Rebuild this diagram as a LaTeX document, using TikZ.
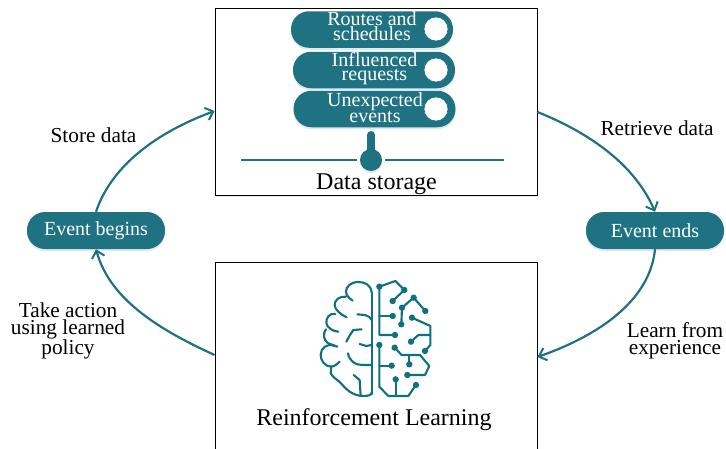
\documentclass[tikz,border=0pt]{standalone}
\usepackage{fontspec}
\setmainfont{Liberation Serif}
\usetikzlibrary{arrows.meta,shadows}
\definecolor{teal1}{HTML}{1F7282}
\definecolor{teal2}{HTML}{0F7080}
\definecolor{shade}{HTML}{9CC3E0}
\tikzset{
  softshadow/.style={drop shadow={shadow xshift=0pt,shadow yshift=-2pt,fill=shade,opacity=.35}},
  framebox/.style={draw=black,line width=.9pt,fill=white,inner sep=0pt,minimum width=322pt,drop shadow={shadow xshift=0pt,shadow yshift=-1.5pt,fill=shade,opacity=.3}},
  eventpill/.style={fill=teal1,rounded corners=18pt,minimum width=138pt,minimum height=37pt,inner sep=0pt,text=white,font=\fontsize{20}{20}\selectfont,softshadow},
  storepill/.style={fill=teal1,rounded corners=18pt,minimum width=162pt,minimum height=36.5pt,inner sep=0pt,softshadow},
  pilltext/.style={inner sep=0pt,text=white,align=center,font=\fontsize{20}{14}\selectfont},
  dot/.style={circle,fill=white,draw=teal1,line width=.6pt,minimum size=24pt,inner sep=0pt},
  flow/.style={draw=teal1,line width=2.2pt,-{Straight Barb[length=7pt,width=13pt,line width=2pt]}},
  label/.style={inner sep=0pt,align=center,text=black,font=\fontsize{21.3}{17}\selectfont},
  title/.style={inner sep=0pt,text=black,font=\fontsize{24}{24}\selectfont},
  brainline/.style={draw=teal2,line width=2.1pt,line join=round,line cap=round},
  brainnode/.style={fill=teal2,draw=none},
  shelf/.style={draw=teal1,line width=2.5pt},
}
\begin{document}
\begin{tikzpicture}[x=1pt,y=-1pt]
\useasboundingbox (0,0) rectangle (726,448);
\clip (0,0) rectangle (726,448);
% boxes
\node[framebox,minimum height=187pt] (ds) at (376,101.5) {};
\node[framebox,minimum height=210pt] (rl) at (376,367) {};
% pills in the data storage box
\node[storepill] (p1) at (372,29.5) {};
\node[storepill] (p2) at (374,70) {};
\node[storepill] (p3) at (374.5,109) {};
\node[pilltext] (t1) at (372,26.5) {Routes and\\schedules};
\node[pilltext] (t2) at (374.5,69) {Influenced\\requests};
\node[pilltext] (t3) at (375,107.5) {Unexpected\\events};
\node[dot] (d1) at (436,29) {};
\node[dot] (d2) at (436,70) {};
\node[dot] (d3) at (436,109) {};
% shelf
\coordinate (sl) at (241,160);
\coordinate (sr) at (504,160);
\node[circle,fill=teal1,minimum size=22pt,inner sep=0pt,softshadow] (hub) at (371,160) {};
\coordinate (st) at (371,135);
\draw[draw=teal1,line width=8pt,line cap=round] (st) -- (hub.center);
\draw[shelf] (sl) -- ([xshift=-3pt]hub.west);
\draw[shelf] ([xshift=3pt]hub.east) -- (sr);
\node[title] (dst) at (376.5,184) {Data storage};
\node[title] (rlt) at (374,420) {Reinforcement Learning};
% events
\node[eventpill] (eb) at (96,230.5) {Event begins};
\node[eventpill] (ee) at (655,230.5) {Event ends};
% connectors
\path[flow] (eb.north) .. controls (110,170) and (150,135) .. ([yshift=-9.5pt]ds.west);
\path[flow] ([yshift=-10.5pt]ds.east) .. controls (590,133) and (635,165) .. (ee.north);
\path[flow] (ee.south) .. controls (650,300) and (600,335) .. ([yshift=10pt]rl.east);
\path[flow] ([yshift=12pt]rl.west) .. controls (160,330) and (110,300) .. (eb.south);
% labels
\node[label] (l1) at (93.5,135) {Store data};
\node[label] (l2) at (657,128) {Retrieve data};
\node[label] (l3) at (68,331) {Take action\\using learned\\policy};
\node[label] (l4) at (675,341) {Learn from\\experience};
% brain
\begin{scope}[shift={(310,270)},x=.3333pt,y=-.3333pt]
\draw[brainline] (185,68) .. controls (183,45) and (165,36) .. (145,36) .. controls (122,36) and (108,50) .. (108,65) .. controls (108,76) and (118,85) .. (128,92);
\draw[brainline] (185,68) -- (185,372);
\draw[brainline] (108,80) .. controls (88,78) and (74,90) .. (74,105) .. controls (74,120) and (95,135) .. (110,142);
\draw[brainline] (142,133) -- (165,135) .. controls (175,137) and (182,143) .. (185,150);
\draw[brainline] (76,132) .. controls (58,128) and (48,145) .. (49,158) .. controls (49,172) and (70,185) .. (85,185);
\draw[brainline] (155,178) -- (130,180) -- (120,195) -- (109,215);
\draw[brainline] (48,178) .. controls (38,190) and (40,212) .. (55,220) -- (82,230);
\draw[brainline] (74,228) .. controls (50,218) and (32,235) .. (32,255) .. controls (32,272) and (45,290) .. (64,290) .. controls (75,288) and (83,282) .. (89,275);
\draw[brainline] (64,290) -- (62,310) .. controls (70,325) and (85,330) .. (95,342) .. controls (110,360) and (130,378) .. (160,378) .. controls (175,378) and (185,375) .. (185,368);
\draw[brainline] (149,222) -- (169,228) -- (185,225);
\draw[brainline] (114,250) .. controls (118,272) and (135,285) .. (155,285) -- (185,285);
\draw[brainline] (131,315) -- (149,330) -- (152,378);
% right half
\draw[brainline] (255,195) -- (208,195) -- (208,50) -- (256,33) -- (283,60) -- (248,93);
\draw[brainline] (208,138) -- (248,138);
\draw[brainline] (274,163) -- (276,113) -- (311,83) -- (346,123);
\draw[brainline] (306,143) -- (361,168) -- (361,225) -- (345,243);
\draw[brainline] (361,195) -- (325,195) -- (303,215);
\draw[brainline] (208,225) -- (208,350) -- (235,378) -- (295,378) -- (318,345);
\draw[brainline] (208,287) -- (245,287);
\draw[brainline] (257,378) -- (257,328);
\draw[brainline] (254,233) -- (275,255) -- (330,255) -- (358,288) -- (345,315) -- (292,315);
\draw[brainline] (298,255) -- (298,283);
\foreach \p in {(208,50),(283,60),(248,93),(248,138),(255,195),(276,113),(311,83),(346,123),(274,163),(306,143),(303,215),(345,243),(208,225),(245,287),(254,233),(298,283),(292,315),(257,328),(318,345)}
  \fill[brainnode] \p circle (9.5);
\end{scope}
\end{tikzpicture}
\end{document}
